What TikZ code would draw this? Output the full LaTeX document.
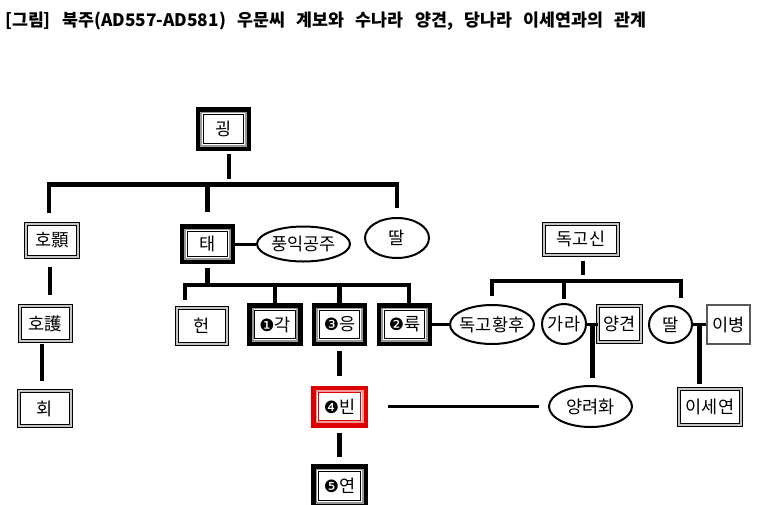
\documentclass[tikz,border=0pt]{standalone}
\usepackage{fontspec}
\setmainfont{Noto Sans CJK KR}
\newfontfamily\dingfont{DejaVu Sans}
\usetikzlibrary{shapes.geometric,calc}
\definecolor{binred}{RGB}{222,0,0}
\tikzset{
  every node/.style={font=\fontsize{17.5}{20}\selectfont,inner sep=0pt},
  tbox/.style={draw=#1,line width=4.5pt,minimum width=51pt,minimum height=38.5pt,
    path picture={
      \draw[#1!40,line width=2pt] ([shift={(3.2pt,-3.2pt)}]path picture bounding box.north west)
        rectangle ([shift={(-3.2pt,3.2pt)}]path picture bounding box.south east);
      \draw[#1,line width=1pt] ([shift={(5.2pt,-5.2pt)}]path picture bounding box.north west)
        rectangle ([shift={(-5.2pt,5.2pt)}]path picture bounding box.south east);}}, % heavy frame
  tbox/.default=black,
  dbox/.style={draw=black,line width=1.3pt,double=gray!45,double distance=1.7pt,
    minimum width=51.5pt,minimum height=34.7pt},                                   % light double frame
  sbox/.style={draw=black!65,line width=1.6pt,minimum width=43.5pt,minimum height=39.5pt},
  oval/.style={ellipse,draw=black,line width=2pt,inner xsep=-8pt},                  % spouse / daughter
  tree/.style={black,line width=4.5pt},
  wed/.style={black,line width=3pt},
}
\newcommand{\cnum}[1]{{\dingfont\fontsize{17}{18}\selectfont#1}}

\begin{document}
\begin{tikzpicture}[x=1pt,y=-1pt]
  \fill[white] (0,0) rectangle (770,504);
  \useasboundingbox (0,0) rectangle (770,504);
  \node[anchor=west,font={\bfseries\fontsize{17.3}{20}\selectfont\spaceskip=11.5pt\relax}] (title) at (5,21)
    {[그림] 북주(AD557-AD581) 우문씨 계보와 수나라 양견, 당나라 이세연과의 관계};

  % Yuwen line
  \node[tbox,minimum height=39.5pt] (gw) at (223.5,129) {굉};
  \node[dbox,minimum height=32.7pt] (hoho) at (52,240.5) {호顥};
  \node[dbox,minimum width=50.7pt] (hohu) at (45.5,323.5) {호護};
  \node[dbox] (hoe) at (45,408.5) {회};
  \node[tbox,minimum height=35.5pt] (tae) at (207.5,244) {태};
  \node[oval,minimum width=93pt,minimum height=35pt] (pungik) at (303.5,244) {풍익공주};
  \node[oval,minimum width=64pt,minimum height=40pt] (ttal1) at (397,238) {딸};
  \node[dbox,minimum width=49.7pt,minimum height=35.7pt] (heon) at (202,326) {헌};
  \node[tbox] (gak) at (275,324.5) {\cnum{❶}각};
  \node[tbox] (eung) at (339.5,324.5) {\cnum{❸}응};
  \node[tbox] (ryuk) at (404.5,324.5) {\cnum{❷}륙};
  \node[tbox=binred,minimum width=52.5pt,minimum height=37.5pt] (bin) at (339.5,406.5) {\cnum{❹}빈};
  \node[tbox,minimum width=52.5pt,minimum height=39.5pt] (yeon) at (339.5,486) {\cnum{❺}연};

  % Dugu line
  \node[dbox,minimum width=73.7pt,minimum height=30.7pt] (dgs) at (581,239.5) {독고신};
  \node[oval,minimum width=84pt,minimum height=39pt] (dgh) at (492,324.5) {독고황후};
  \node[oval,minimum width=44pt,minimum height=40pt] (gara) at (564,324) {가라};
  \node[dbox,minimum width=42.7pt,minimum height=35.7pt] (yg) at (619.5,324) {양견};
  \node[oval,minimum width=43pt,minimum height=37pt] (ttal2) at (670.5,324.5) {딸};
  \node[sbox] (ib) at (728.5,324.5) {이병};
  \node[oval,minimum width=83pt,minimum height=41pt] (yrh) at (590.5,406.5) {양려화};
  \node[dbox,minimum width=61.7pt,minimum height=35.7pt] (isy) at (710,407) {이세연};

  \coordinate (barU) at (229,184.5);
  \coordinate (barT) at (207.5,285);
  \coordinate (barD) at (583,281);
  \coordinate (gy) at ($(gara.east)!.5!(yg.west)$);
  \coordinate (ti) at ($(ttal2.east)!.5!(ib.west)$);

  \draw[tree,shorten <=3pt,shorten >=5.5pt] ([xshift=5.5pt]gw.south) -- (barU);
  \draw[tree,shorten <=11pt,shorten >=9pt] ([xshift=-3pt]hoho.north) |- (barU) -| (ttal1.north);
  \draw[tree,shorten >=12pt] (barU -| tae.north) -- (tae.north);
  \draw[tree,shorten <=9pt,shorten >=11pt] ([xshift=-2pt]hoho.south) -- ([xshift=-2pt]hoho.south |- hohu.north);
  \draw[tree,shorten <=2pt,shorten >=10pt] ([xshift=-3.5pt]hohu.south) -- ([xshift=-3.5pt]hohu.south |- hoe.north);

  \draw[tree,shorten <=4pt] (tae.south) -- (barT);
  \draw[tree,shorten <=8pt] ([xshift=-17pt]heon.north) |- (barT) -| ([xshift=4.5pt]ryuk.north);
  \foreach \n in {gak,eung} \draw[tree] (barT -| \n.north) -- (\n.north);
  \draw[tree,shorten <=5pt,shorten >=10pt] (eung.south) -- (bin.north);
  \draw[tree,shorten <=5pt,shorten >=7pt] (bin.south) -- (yeon.north);

  \draw[tree,shorten <=5pt,shorten >=6pt] (dgs.south -| barD) -- (barD);
  \draw[tree,shorten <=8pt,shorten >=7pt] (dgh.north) |- (barD) -| ([xshift=10.5pt]ttal2.north);
  \draw[tree,shorten >=4pt] (barD -| gara.north) -- (gara.north);

  \draw[wed] (tae) -- (pungik);
  \draw[wed] (ryuk) -- (dgh);
  \draw[wed] (gara) -- (yg);
  \draw[wed] (ttal2) -- (ib);
  \draw[wed,shorten <=20pt,shorten >=9pt] (bin) -- (yrh);
  \draw[tree,shorten >=7pt] (gy) -- (gy |- yrh.north);
  \draw[tree,shorten >=5pt] (ti) -- (ti |- isy.north);
\end{tikzpicture}
\end{document}
